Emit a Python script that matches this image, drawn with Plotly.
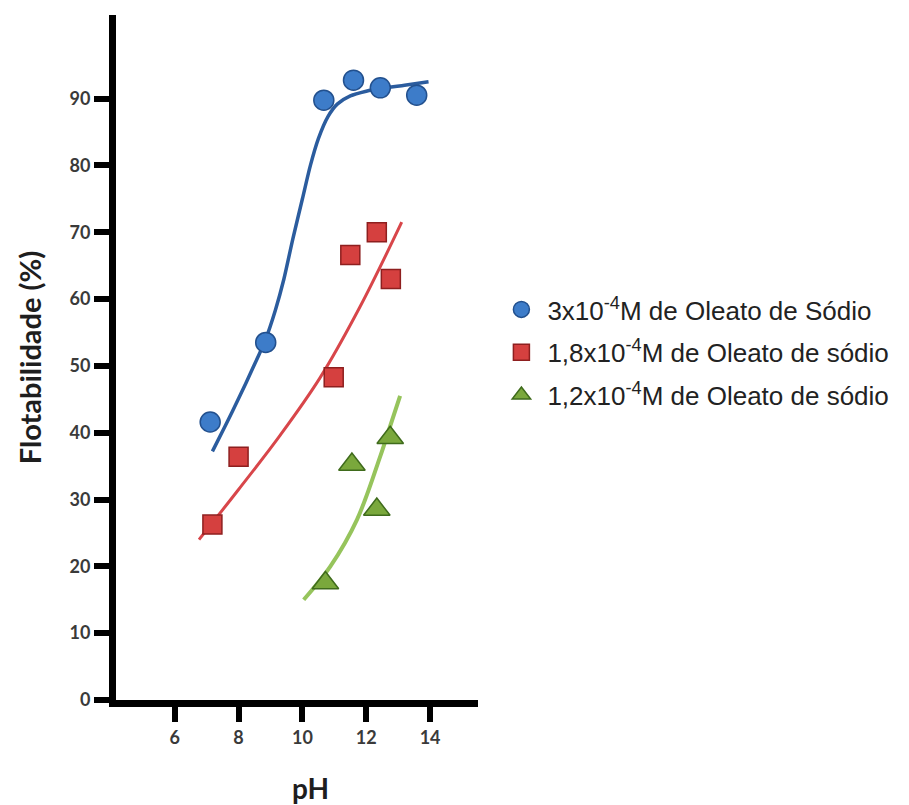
import plotly.graph_objects as go

# Measured points
ph_blue = [7.11, 8.85, 10.67, 11.6, 12.44, 13.58]
flot_blue = [41.6, 53.5, 89.75, 92.75, 91.6, 90.5]
ph_red = [7.18, 8.0, 10.98, 11.5, 12.33, 12.77]
flot_red = [26.25, 36.4, 48.3, 66.6, 70.0, 63.0]
ph_green = [10.72, 11.55, 12.33, 12.75]
flot_green = [17.5, 35.25, 28.5, 39.25]

# Fitted curves
curve_blue_x = [7.18, 7.6, 8.0, 8.45, 8.84, 9.15, 9.42, 9.7, 10.0, 10.25, 10.5, 10.8, 11.1,
                11.5, 12.0, 12.44, 13.2, 13.95]
curve_blue_y = [37.2, 41.2, 45.1, 49.7, 53.9, 58.3, 63.0, 69.0, 75.0, 80.0, 84.0, 87.3, 89.2,
                90.4, 91.1, 91.5, 92.0, 92.5]
curve_red_x = [6.76, 8.0, 9.3, 10.55, 11.8, 13.11]
curve_red_y = [24.0, 31.5, 39.6, 48.2, 58.8, 71.5]
curve_green_x = [10.04, 10.875, 11.71, 12.44, 12.75, 13.06]
curve_green_y = [15.0, 20.0, 27.0, 36.5, 41.0, 45.5]

x_ticks = [6, 8, 10, 12, 14]
y_ticks = [0, 10, 20, 30, 40, 50, 60, 70, 80, 90]

names = [
    "3x10<sup>-4</sup>M de Oleato de Sódio",
    "1,8x10<sup>-4</sup>M de Oleato de sódio",
    "1,2x10<sup>-4</sup>M de Oleato de sódio",
]

fig = go.Figure()

fig.add_trace(go.Scatter(x=curve_blue_x, y=curve_blue_y, mode="lines",
                         line=dict(color="#2b5c9e", width=3.5, shape="spline", smoothing=0.8),
                         showlegend=False, hoverinfo="skip"))
fig.add_trace(go.Scatter(x=curve_red_x, y=curve_red_y, mode="lines",
                         line=dict(color="#d8464a", width=3, shape="spline", smoothing=1.0),
                         showlegend=False, hoverinfo="skip"))
fig.add_trace(go.Scatter(x=curve_green_x, y=curve_green_y, mode="lines",
                         line=dict(color="#96c45c", width=4, shape="spline", smoothing=1.0),
                         showlegend=False, hoverinfo="skip"))

fig.add_trace(go.Scatter(x=ph_blue, y=flot_blue, mode="markers", name=names[0], legendgroup="a",
                         marker=dict(symbol="circle", size=20, color="#3d7cc9",
                                     line=dict(color="#22508e", width=1.5))))
fig.add_trace(go.Scatter(x=ph_red, y=flot_red, mode="markers", name=names[1], legendgroup="b",
                         marker=dict(symbol="square", size=19, color="#d5403f",
                                     line=dict(color="#8e1f1f", width=1.5))))
fig.add_trace(go.Scatter(x=ph_green, y=flot_green, mode="markers", name=names[2], legendgroup="c",
                         marker=dict(symbol="triangle-up", size=23, color="#7aa83c",
                                     line=dict(color="#3f6b1c", width=1.5))))

tickfont = dict(family="Lato", size=18, color="#3a3a3a", weight="bold")

fig.update_layout(
    width=909, height=805,
    margin=dict(l=116, r=431, t=15, b=105),
    paper_bgcolor="white", plot_bgcolor="white",
    showlegend=True,
    legend=dict(xref="container", yref="container", x=0.545, y=1 - 286 / 805,
                xanchor="left", yanchor="top",
                font=dict(family="Liberation Sans", size=26, color="#222222"),
                tracegroupgap=6, itemwidth=42, bgcolor="rgba(0,0,0,0)"),
    xaxis=dict(range=[4.16, 15.5], tickvals=x_ticks, ticktext=[str(v) for v in x_ticks],
               showline=True, linewidth=7, linecolor="black", mirror=False,
               ticks="outside", ticklen=15, tickwidth=6, tickcolor="black",
               showgrid=False, zeroline=False, tickfont=tickfont),
    yaxis=dict(range=[0, 102.5], tickvals=y_ticks, ticktext=[str(v) for v in y_ticks],
               showline=True, linewidth=7, linecolor="black",
               ticks="outside", ticklen=15, tickwidth=6, tickcolor="black",
               showgrid=False, zeroline=False, tickfont=tickfont,
               title=dict(text="Flotabilidade (%)", standoff=22,
                          font=dict(family="Lato", size=29, color="#1e1e1e", weight="bold"))),
    annotations=[dict(text="<b>pH</b>", x=10.26, xref="x", y=-(788 - 700) / 685, yref="paper",
                      yanchor="middle", showarrow=False,
                      font=dict(family="Lato", size=28, color="#1e1e1e"))],
)

fig.write_html("out.html")
